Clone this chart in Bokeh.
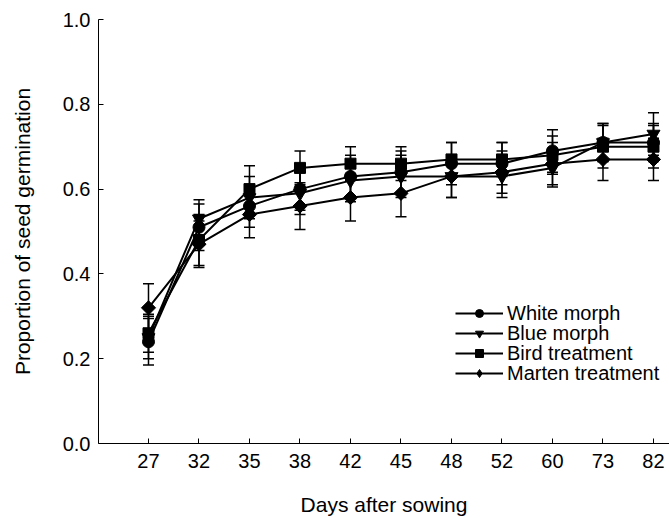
import math
from bokeh.plotting import figure
from bokeh.models import (Range1d, FixedTicker, Whisker, ColumnDataSource, Legend,
                          LegendItem, TeeHead, NumeralTickFormatter)
from bokeh.embed import file_html
from bokeh.resources import INLINE

days = ["27", "32", "35", "38", "42", "45", "48", "52", "60", "73", "82"]
white = [0.24, 0.51, 0.56, 0.60, 0.63, 0.64, 0.66, 0.66, 0.69, 0.71, 0.71]
white_se = [0.055, 0.055, 0.05, 0.05, 0.05, 0.05, 0.05, 0.05, 0.05, 0.045, 0.045]
blue = [0.25, 0.53, 0.58, 0.59, 0.62, 0.63, 0.63, 0.63, 0.65, 0.71, 0.73]
blue_se = [0.05, 0.045, 0.05, 0.05, 0.05, 0.05, 0.05, 0.05, 0.045, 0.045, 0.05]
bird = [0.26, 0.48, 0.60, 0.65, 0.66, 0.66, 0.67, 0.67, 0.68, 0.70, 0.70]
bird_se = [0.045, 0.06, 0.055, 0.04, 0.04, 0.04, 0.04, 0.04, 0.045, 0.05, 0.05]
marten = [0.32, 0.47, 0.54, 0.56, 0.58, 0.59, 0.63, 0.64, 0.66, 0.67, 0.67]
marten_se = [0.057, 0.055, 0.055, 0.055, 0.055, 0.055, 0.05, 0.05, 0.05, 0.05, 0.05]
y_ticks = [0.0, 0.2, 0.4, 0.6, 0.8, 1.0]

FONT = "Liberation Sans"
xs = list(range(1, len(days) + 1))
X0, X1 = 0.01, 11.317

p = figure(width=669, height=518, output_backend="svg", toolbar_location=None,
           x_range=Range1d(X0, X1), y_range=Range1d(0, 1.0),
           min_border_left=98, min_border_right=0, min_border_top=19,
           min_border_bottom=75)
p.outline_line_color = None
p.grid.visible = False
p.background_fill_color = "white"
p.border_fill_color = "white"

for ax in (p.xaxis[0], p.yaxis[0]):
    ax.axis_line_color = "black"
    ax.axis_line_width = 1
    ax.major_tick_line_color = "black"
    ax.major_tick_in = 5
    ax.major_tick_out = 0
    ax.minor_tick_line_color = None
    ax.major_label_text_font = FONT
    ax.major_label_text_font_size = "20px"
    ax.major_label_text_color = "black"
    ax.axis_label_text_font = FONT
    ax.axis_label_text_font_size = "21px"
    ax.axis_label_text_font_style = "normal"
    ax.axis_label_text_color = "black"

p.xaxis.ticker = FixedTicker(ticks=xs)
p.xaxis.major_label_overrides = {x: d for x, d in zip(xs, days)}
p.xaxis.major_label_standoff = 10
p.xaxis.axis_label = "Days after sowing"
p.xaxis.axis_label_standoff = 22

p.yaxis.ticker = FixedTicker(ticks=y_ticks)
p.yaxis.formatter = NumeralTickFormatter(format="0.0")
p.yaxis.major_label_standoff = 8
p.yaxis.axis_label = "Proportion of seed germination"
p.yaxis.axis_label_standoff = 26

# name, values, errors, marker, size, legend marker, legend size, angle
series = [
    ("White morph", white, white_se, "circle", 12, "circle", 8, 0),
    ("Blue morph", blue, blue_se, "inverted_triangle", 13, "inverted_triangle", 9, 0),
    ("Bird treatment", bird, bird_se, "square", 11, "square", 8, 0),
    ("Marten treatment", marten, marten_se, "square", 10, "diamond", 14, math.pi / 4),
]

for name, vals, se, marker, size, lm, ls, ang in series:
    p.line(xs, vals, line_color="black", line_width=2)

for name, vals, se, marker, size, lm, ls, ang in series:
    src = ColumnDataSource(dict(x=xs,
                                upper=[v + e for v, e in zip(vals, se)],
                                lower=[v - e for v, e in zip(vals, se)]))
    w = Whisker(base="x", upper="upper", lower="lower", source=src,
                dimension="height", line_color="black", line_width=1.5,
                upper_head=TeeHead(size=11, line_color="black", line_width=1.5),
                lower_head=TeeHead(size=11, line_color="black", line_width=1.5))
    p.add_layout(w)

for name, vals, se, marker, size, lm, ls, ang in series:
    p.scatter(xs, vals, marker=marker, size=size, angle=ang, fill_color="black",
              line_color="black")

legend_bottoms = [118.5, 98.5, 78.5, 58.5]
for (name, vals, se, marker, size, lm, ls, ang), yb in zip(series, legend_bottoms):
    proxy = ColumnDataSource(dict(x=[float("nan")], y=[float("nan")]))
    r1 = p.line("x", "y", source=proxy, line_color="black", line_width=2)
    r2 = p.scatter("x", "y", source=proxy, marker=lm, size=ls,
                   fill_color="black", line_color="black")
    lg = Legend(items=[LegendItem(label=name, renderers=[r1, r2])],
                location=(357, yb), glyph_width=48, glyph_height=20,
                spacing=0, padding=0, margin=0, label_standoff=4,
                label_height=20, border_line_color=None,
                background_fill_alpha=0, label_text_font=FONT,
                label_text_font_size="20px", label_text_color="black")
    p.add_layout(lg)

open("out.html", "w").write(file_html(p, INLINE))
